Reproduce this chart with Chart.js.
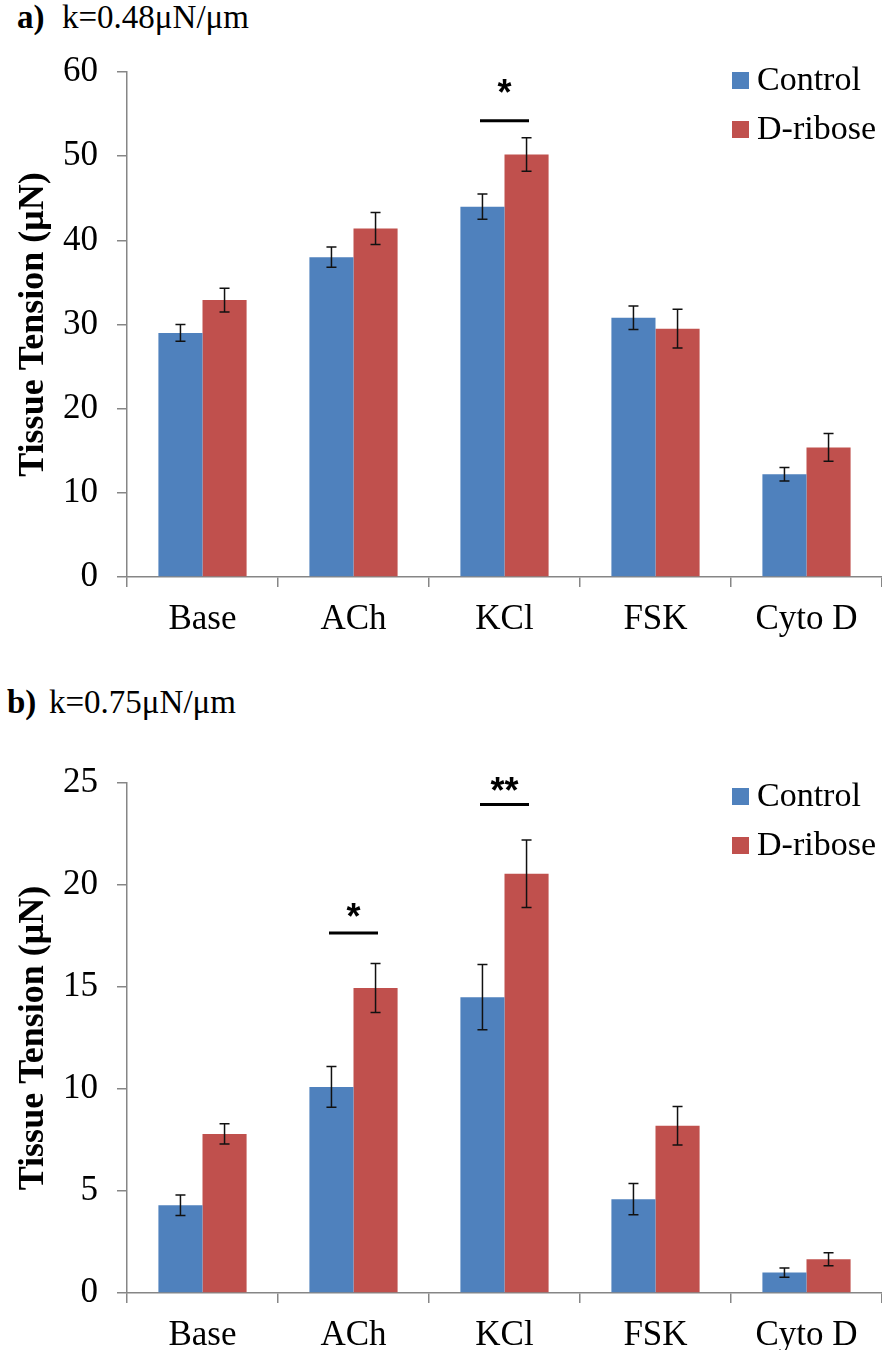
<!DOCTYPE html>
<html><head><meta charset="utf-8">
<script src="https://cdn.jsdelivr.net/npm/chart.js@4"></script>
<style>
body{margin:0;width:882px;height:1350px;background:#fff;position:relative;overflow:hidden;font-family:"Liberation Serif","Times New Roman",serif;color:#000;}
.t{position:absolute;font-size:33px;line-height:1;white-space:nowrap;}
.b{font-weight:bold;}
canvas{position:absolute;left:0;}
</style></head>
<body>
<div class="t b" style="left:17px;top:1px;">a)</div>
<div class="t" style="left:62px;top:1px;">k=0.48μN/μm</div>
<div class="t b" style="left:7px;top:686px;">b)</div>
<div class="t" style="left:49px;top:686px;">k=0.75μN/μm</div>
<canvas id="ca" width="882" height="650" style="top:0;"></canvas>
<canvas id="cb" width="882" height="673" style="top:677px;"></canvas>
<script>
const categories = ["Base", "ACh", "KCl", "FSK", "Cyto D"];
const seriesNames = ["Control", "D-ribose"];

const aControl    = [29.0, 38.0, 44.0, 30.8, 12.2];
const aControlErr = [1.0, 1.2, 1.5, 1.4, 0.8];
const aRibose     = [32.9, 41.4, 50.2, 29.5, 15.4];
const aRiboseErr  = [1.4, 1.9, 2.0, 2.3, 1.65];
const aTicks      = {max: 60, step: 10};
const aSig        = [{cat: 2, line: 54.2, star: 58.4, label: "*"}];

const bControl    = [4.3, 10.1, 14.5, 4.6, 1.0];
const bControlErr = [0.5, 1.0, 1.6, 0.77, 0.23];
const bRibose     = [7.8, 14.95, 20.55, 8.2, 1.65];
const bRiboseErr  = [0.5, 1.2, 1.65, 0.94, 0.32];
const bTicks      = {max: 25, step: 5};
const bSig        = [{cat: 1, line: 17.65, star: 18.8, label: "*"},
                     {cat: 2, line: 23.95, star: 25.0, label: "**"}];

const BLUE = "#4F81BD", RED = "#C0504D", AXIS = "#868686";
const SERIF = "'Liberation Serif', 'Times New Roman', serif";

const extras = {
  id: "extras",
  afterDatasetsDraw(chart, args, opts) {
    const ctx = chart.ctx, y = chart.scales.y, x = chart.scales.x;
    ctx.save();
    opts.errors.forEach((errs, di) => {
      const meta = chart.getDatasetMeta(di);
      meta.data.forEach((bar, i) => {
        const v = chart.data.datasets[di].data[i], e = errs[i];
        const yt = y.getPixelForValue(v + e), yb = y.getPixelForValue(v - e);
        ctx.strokeStyle = "#111"; ctx.lineWidth = 1.5;
        ctx.beginPath();
        ctx.moveTo(bar.x, yt); ctx.lineTo(bar.x, yb);
        ctx.moveTo(bar.x - 5, yt); ctx.lineTo(bar.x + 5, yt);
        ctx.moveTo(bar.x - 5, yb); ctx.lineTo(bar.x + 5, yb);
        ctx.stroke();
      });
    });
    opts.sig.forEach(s => {
      const cx = x.getPixelForValue(s.cat);
      const yl = y.getPixelForValue(s.line), ys = y.getPixelForValue(s.star);
      ctx.strokeStyle = "#000"; ctx.lineWidth = 3;
      ctx.beginPath(); ctx.moveTo(cx - 24.5, yl); ctx.lineTo(cx + 24.5, yl); ctx.stroke();
      ctx.fillStyle = "#000";
      ctx.font = "bold 36px 'Liberation Sans', Arial, sans-serif";
      ctx.textAlign = "center"; ctx.textBaseline = "alphabetic";
      ctx.fillText(s.label, cx, ys + 20);
    });
    const ca = chart.chartArea;
    chart.data.datasets.forEach((ds, i) => {
      const cy = ca.top + opts.legendTop + i * 49;
      ctx.fillStyle = ds.backgroundColor;
      ctx.fillRect(ca.right - 150, cy - 8, 17, 17);
      ctx.fillStyle = "#000";
      ctx.font = "34px " + SERIF;
      ctx.textAlign = "left"; ctx.textBaseline = "middle";
      ctx.fillText(ds.label, ca.right - 125, cy + 1);
    });
    ctx.restore();
  }
};

function makeChart(id, control, ribose, cErr, rErr, ticks, sig, padTop, xHeight, legendTop) {
  return new Chart(document.getElementById(id), {
    type: "bar",
    data: {
      labels: categories,
      datasets: [
        {label: seriesNames[0], data: control, backgroundColor: BLUE, borderWidth: 0},
        {label: seriesNames[1], data: ribose, backgroundColor: RED, borderWidth: 0}
      ]
    },
    options: {
      responsive: false, animation: false,
      layout: {padding: {left: 12, top: padTop, right: 0, bottom: 0}},
      datasets: {bar: {categoryPercentage: 0.584, barPercentage: 1.0}},
      plugins: {
        legend: {display: false}, tooltip: {enabled: false},
        extras: {errors: [cErr, rErr], sig: sig, legendTop: legendTop}
      },
      scales: {
        x: {
          grid: {display: true, drawOnChartArea: false, offset: true, tickLength: 10, color: AXIS, lineWidth: 1.5},
          border: {color: AXIS, width: 1.5},
          ticks: {color: "#000", padding: 12, font: {family: SERIF, size: 35, weight: "normal"}},
          afterFit(s) { s.height = xHeight; }
        },
        y: {
          min: 0, max: ticks.max,
          grid: {display: true, drawOnChartArea: false, tickLength: 10, color: AXIS, lineWidth: 1.5},
          border: {color: AXIS, width: 1.5},
          ticks: {stepSize: ticks.step, color: "#000", padding: 19, font: {family: SERIF, size: 35, weight: "normal"}},
          title: {display: true, text: "Tissue Tension (μN)", color: "#000", padding: 0,
                  font: {family: SERIF, size: 36, weight: "bold"}},
          afterFit(s) { s.width = 115; }
        }
      }
    },
    plugins: [extras]
  });
}

Chart.defaults.font.family = SERIF;

function build() {
  makeChart("ca", aControl, aRibose, aControlErr, aRiboseErr, aTicks, aSig, 72, 73, 8);
  makeChart("cb", bControl, bRibose, bControlErr, bRiboseErr, bTicks, bSig, 106, 57, 13);
}
Promise.all([
  document.fonts.load("35px 'Liberation Serif'"),
  document.fonts.load("bold 36px 'Liberation Serif'"),
  document.fonts.load("bold 36px 'Liberation Sans'")
]).then(build, build);
</script>
</body></html>
